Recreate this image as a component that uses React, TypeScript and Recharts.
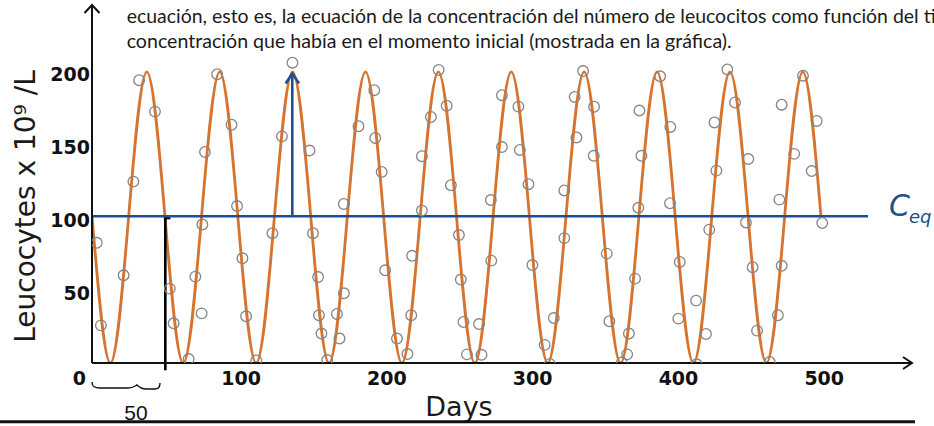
import React from 'react';
import { ComposedChart, Line, Scatter, XAxis, YAxis, ReferenceLine, ReferenceDot } from 'recharts';

// fitted curve: crossings, troughs and peaks
const curveDays = [
  -2.2, 10.3, 22.8, 35.3, 47.8, 60.3, 72.8, 85.3, 97.8, 110.3, 122.8, 135.3, 147.8, 160.3,
  172.8, 185.3, 197.8, 210.3, 222.8, 235.3, 247.8, 260.3, 272.8, 285.3, 297.8, 310.3, 322.8,
  335.3, 347.8, 360.3, 372.8, 385.3, 397.8, 410.3, 422.8, 435.3, 447.8, 460.3, 472.8, 485.3, 497.8,
];
const curveValues = [
  102, 2.6, 102, 201.4, 102, 2.6, 102, 201.4, 102, 2.6, 102, 201.4, 102, 2.6,
  102, 201.4, 102, 2.6, 102, 201.4, 102, 2.6, 102, 201.4, 102, 2.6, 102,
  201.4, 102, 2.6, 102, 201.4, 102, 2.6, 102, 201.4, 102, 2.6, 102, 201.4, 102,
];

// measured samples (hollow circles)
const sampleDays = [
  1.0, 3.8, 19.4, 26.1, 30.0, 40.9, 51.1, 53.7, 64.0, 68.6, 72.9, 73.4, 75.2, 83.6, 93.4, 97.2,
  100.9, 103.4, 110.4, 121.5, 128.0, 135.2, 146.9, 149.3, 152.8, 153.4, 155.1, 159.1, 165.7, 167.5,
  170.5, 170.4, 180.5, 191.3, 192.0, 196.4, 198.8, 206.9, 214.1, 216.7, 217.3, 224.0, 224.0, 230.2,
  235.5, 241.0, 243.9, 249.4, 250.7, 252.5, 254.9, 263.2, 264.9, 271.6, 271.3, 278.9, 278.9, 290.2,
  291.2, 297.1, 299.8, 308.2, 311.8, 314.5, 321.7, 321.7, 330.0, 328.8, 334.6, 342.1, 341.9, 350.8,
  352.6, 361.1, 364.8, 366.0, 370.2, 372.5, 374.6, 373.2, 387.4, 394.4, 394.2, 400.9, 399.9, 412.1,
  412.5, 418.9, 421.1, 426.0, 424.7, 433.5, 438.8, 446.3, 447.9, 450.9, 453.9, 462.6, 468.2, 470.8,
  469.2, 470.8, 479.4, 485.4, 491.4, 494.8, 498.6,
];
const sampleValues = [
  84.7, 28.3, 62.5, 126.5, 195.7, 174.3, 53.4, 29.7, 5.3, 61.6, 36.5, 97.2, 146.7, 199.8, 165.3, 109.8,
  74.1, 34.5, 4.4, 91.2, 157.4, 207.7, 147.7, 91.2, 61.3, 35.2, 22.7, 4.6, 36.1, 19.3,
  50.2, 111.2, 164.3, 188.9, 156.3, 133.1, 65.9, 19.3, 8.7, 35.2, 75.8, 106.7, 143.8, 170.6,
  202.7, 178.3, 124.0, 90.0, 59.6, 30.6, 8.5, 29.2, 8.2, 72.5, 113.9, 150.1, 185.5, 177.7,
  148.1, 124.7, 69.5, 15.0, 1.9, 33.3, 87.9, 120.4, 156.6, 184.3, 202.0, 177.6, 144.1, 77.3,
  31.1, 2.9, 8.5, 22.7, 60.2, 108.6, 144.1, 175.0, 198.4, 163.8, 111.7, 71.6, 32.9, 45.2,
  1.7, 22.4, 93.7, 134.0, 166.9, 203.1, 180.5, 98.6, 141.9, 68.0, 24.7, 3.3, 35.2, 69.0,
  114.2, 179.0, 145.4, 198.8, 133.7, 167.9, 98.2,
];

const xTicks = [0, 100, 200, 300, 400, 500];
const yTicks = [50, 100, 150, 200];

const BLUE = '#1f4f8e';
const ORANGE = '#d6742f';

const curveData = curveDays.map((d, i) => ({ day: d, level: curveValues[i] }));
const sampleData = sampleDays.map((d, i) => ({ day: d, value: sampleValues[i] }));

const XTick = (props: any) => {
  const { x, y, payload } = props;
  return (
    <text x={payload.value === 0 ? x - 16 : x} y={y + 22} textAnchor="middle"
      fontFamily="DejaVu Sans" fontWeight="bold" fontSize={19} fill="#111">
      {payload.value}
    </text>
  );
};

const YTick = (props: any) => {
  const { x, y, payload } = props;
  return (
    <text x={x} y={y} dy="0.36em" textAnchor="end"
      fontFamily="DejaVu Sans" fontWeight="bold" fontSize={19} fill="#111">
      {payload.value}
    </text>
  );
};

const Ring = (props: any) => (
  <circle cx={props.cx} cy={props.cy} r={5.3} fill="none" stroke="#858585" strokeWidth={1.3} />
);

const arrowUp = (color: string, w: number, h: number, sw: number) => (props: any) => (
  <path d={`M${props.cx - w},${props.cy + h} L${props.cx},${props.cy} L${props.cx + w},${props.cy + h}`}
    fill="none" stroke={color} strokeWidth={sw} />
);

const arrowRight = (props: any) => (
  <path d={`M${props.cx - 9},${props.cy - 6} L${props.cx},${props.cy} L${props.cx - 9},${props.cy + 6}`}
    fill="none" stroke="#111" strokeWidth={2} />
);

export default function App() {
  return (
    <div style={{ position: 'absolute', left: 0, top: 0, width: 934, height: 426, background: '#fff', overflow: 'hidden' }}>
      <ComposedChart width={934} height={426} margin={{ top: 5, right: 22, bottom: 0, left: 0 }}>
        <XAxis type="number" dataKey="day" domain={[-2.3, 560.2]} ticks={xTicks} allowDataOverflow
          axisLine={{ stroke: '#111', strokeWidth: 2 }} tickLine={false} tickSize={0} tickMargin={0}
          height={63} tick={<XTick />} />
        <YAxis type="number" domain={[2.6, 247.1]} ticks={yTicks} allowDataOverflow
          axisLine={{ stroke: '#111', strokeWidth: 2 }} tickLine={false} tickSize={0} tickMargin={2}
          width={92} tick={<YTick />} />
        <Scatter data={sampleData} dataKey="value" shape={<Ring />} isAnimationActive={false} />
        <Line data={curveData} dataKey="level" type="natural" stroke={ORANGE} strokeWidth={2.8}
          dot={false} activeDot={false} isAnimationActive={false} />
        <ReferenceLine segment={[{ x: -2.3, y: 102.8 }, { x: 530, y: 102.8 }]} stroke={BLUE} strokeWidth={2.6} ifOverflow="visible" />
        <ReferenceLine segment={[{ x: 135.1, y: 102.8 }, { x: 135.1, y: 200 }]} stroke={BLUE} strokeWidth={2.6} ifOverflow="visible" />
        <ReferenceDot x={135.1} y={200.3} ifOverflow="visible" shape={arrowUp(BLUE, 6.7, 10, 2.6)} />
        <ReferenceLine segment={[{ x: 48, y: 101.4 }, { x: 48, y: -2.4 }]} stroke="#000" strokeWidth={2.6} ifOverflow="visible" />
        <ReferenceLine segment={[{ x: 47.2, y: 101.4 }, { x: 51.5, y: 101.4 }]} stroke="#000" strokeWidth={2} ifOverflow="visible" />
        <ReferenceDot x={-2.3} y={247.1} ifOverflow="visible" shape={arrowUp('#111', 7.5, 8, 2)} />
        <ReferenceDot x={560.2} y={2.6} ifOverflow="visible" shape={arrowRight} />
      </ComposedChart>
      <svg width={934} height={426} style={{ position: 'absolute', left: 0, top: 0, pointerEvents: 'none' }}>
        <g fontFamily="Lato" fontSize={19} fill="#1a1a1a">
          <text x={126.7} y={23.3} textLength={809} lengthAdjust="spacingAndGlyphs">
            ecuación, esto es, la ecuación de la concentración del número de leucocitos como función del ti
          </text>
          <text x={126.7} y={48.3} textLength={605} lengthAdjust="spacingAndGlyphs">
            concentración que había en el momento inicial (mostrada en la gráfica).
          </text>
        </g>
        <text transform="translate(35,206.5) rotate(-90)" textAnchor="middle" fontFamily="DejaVu Sans" fontSize={28} fill="#1a1a1a">
          Leucocytes x 10⁹ /L
        </text>
        <text x={459} y={416} textAnchor="middle" fontFamily="DejaVu Sans" fontSize={27} fill="#1a1a1a">Days</text>
        <path d="M92,382 C92,387 95,388 100,388 L128,388 C133,388 135,386 137,385 C139,387 141,389 146,389 L155,389 C158,389 160,387 160,383"
          fill="none" stroke="#111" strokeWidth={1.4} />
        <text x={136} y={420} textAnchor="middle" fontFamily="Liberation Sans" fontSize={21} fill="#111">50</text>
        <text x={889} y={216} fontFamily="DejaVu Sans" fontWeight={200} fontStyle="italic" fontSize={30} fill={BLUE}>C</text>
        <text x={909} y={223} fontFamily="DejaVu Sans" fontWeight={200} fontStyle="italic" fontSize={18} fill={BLUE}>eq</text>
        <line x1={0} y1={421.7} x2={915} y2={421.7} stroke="#111" strokeWidth={3} />
      </svg>
    </div>
  );
}
